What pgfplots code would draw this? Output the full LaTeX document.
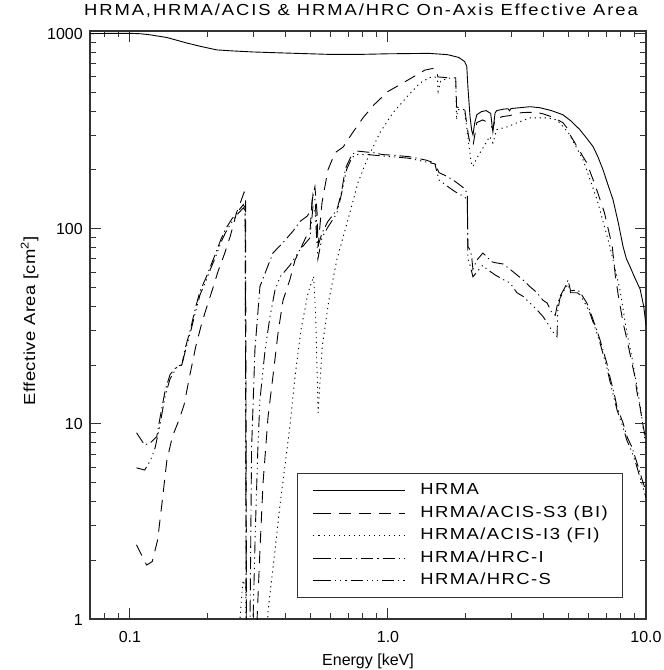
\documentclass[border=0pt]{standalone}
\usepackage{fontspec}
\setmainfont{Liberation Sans}
\newfontfamily\hfont[FakeStretch=1.15,LetterSpace=9]{Liberation Sans}
\newfontfamily\tfont[FakeStretch=1.15,LetterSpace=12]{Liberation Sans}
\newfontfamily\yfont[FakeStretch=1.15,LetterSpace=3]{Liberation Sans}
\usepackage{pgfplots}
\pgfplotsset{compat=1.18}
\begin{document}
\begin{tikzpicture}
\path[use as bounding box] (-90pt,-51pt) rectangle (574pt,619pt);
\begin{axis}[
  at={(0pt,0pt)}, anchor=south west,
  scale only axis, width=556pt, height=588pt,
  xmode=log, ymode=log,
  xmin=0.07, xmax=10, ymin=1, ymax=1031,
  xtick={0.1,1,10}, xticklabels={0.1,1.0,10.0},
  ytick={1,10,100,1000}, yticklabels={1,10,100,1000},
  minor xtick={0.07,0.08,0.09,0.2,0.3,0.4,0.5,0.6,0.7,0.8,0.9,2,3,4,5,6,7,8,9},
  minor ytick={2,3,4,5,6,7,8,9,20,30,40,50,60,70,80,90,200,300,400,500,600,700,800,900},
  tick align=inside, major tick length=11pt, minor tick length=6pt,
  tick style={line width=1pt, black!80},
  axis line style={line width=1.2pt, black!80},
  tick label style={font=\fontsize{16}{19}\selectfont},
  xticklabel style={anchor=base, inner sep=0pt, yshift=-23pt},
  yticklabel style={anchor=base east, inner sep=0pt, xshift=-7pt, yshift=-6pt},
  title={HRMA,HRMA/ACIS \& HRMA/HRC On-Axis Effective Area},
  title style={at={(0.5,1)}, anchor=base, yshift=9pt, xshift=-7pt, inner sep=0pt, font=\tfont\fontsize{16}{19}\selectfont},
  xlabel={Energy [keV]},
  every axis x label/.style={at={(axis description cs:0.5,0)}, anchor=base, yshift=-46pt, inner sep=0pt, font=\fontsize{16}{19}\selectfont},
  ylabel={Effective Area [cm\textsuperscript{2}]},
  every axis y label/.style={at={(axis description cs:-0.0989,0.507)}, rotate=90, anchor=base, inner sep=0pt, font=\yfont\fontsize{16}{19}\selectfont},
  legend style={at={(axis description cs:0.3723,0.2483)}, anchor=north west,
    draw=black!80, line width=1.2pt, inner xsep=15pt, inner ysep=9.25pt,
    font=\hfont\fontsize{16}{19}\selectfont, row sep=7pt,
    nodes={inner sep=0pt, text height=12pt, text depth=3.5pt},
    /tikz/every odd column/.append style={column sep=15pt}},
  legend cell align=left,
  legend image code/.code={\path (0pt,0pt) -- (6pt,0pt); \draw[#1] (6pt,0pt) -- (92pt,0pt);},
  every axis plot/.append style={black, line width=0.9pt, mark=none},
]
% HRMA
\addplot[solid] coordinates {
(0.07,1000) (0.09,1003) (0.1,1003) (0.11,998) (0.12,985) (0.139,955) (0.166,895)
(0.187,861) (0.217,825) (0.25,815) (0.3,805) (0.39,796) (0.5,788) (0.6,782)
(0.8,783) (1.0,788) (1.44,792) (1.7,780) (1.88,755) (1.98,720) (2.02,680)
(2.04,535) (2.08,375) (2.11,320) (2.135,303) (2.17,350) (2.21,384) (2.3,398)
(2.4,403) (2.5,390) (2.55,314) (2.6,392) (2.64,403) (2.8,410) (2.92,412)
(2.96,402) (3.0,413) (3.3,418) (3.55,422) (3.88,417) (4.3,403) (4.76,384)
(5.1,358) (5.54,322) (5.9,290) (6.23,264) (6.5,235) (6.81,201) (7.1,170)
(7.45,141) (7.8,108) (8.15,81) (8.4,70) (8.67,64) (9.0,57) (9.49,49) (9.8,40) (10,32)
};
\addlegendentry{HRMA}
% ACIS-S3
\addplot[dash pattern=on 12pt off 8pt] coordinates {
(0.106,2.40) (0.116,1.89) (0.122,1.97) (0.128,2.54) (0.133,3.9) (0.139,6.5)
(0.146,8.6) (0.155,10.5) (0.162,12.5) (0.171,18) (0.180,25) (0.190,33) (0.200,41)
(0.210,50) (0.219,60) (0.233,75) (0.245,92) (0.259,121) (0.270,140) (0.277,154)
(0.2805,150) (0.2835,0.3) (0.305,0.4) (0.311,1.0) (0.319,2.26) (0.328,5)
(0.343,10.9) (0.358,17.4) (0.375,29.3) (0.392,43) (0.417,55) (0.436,69)
(0.456,78) (0.48,90) (0.499,99) (0.508,140) (0.521,164) (0.531,121) (0.536,81)
(0.555,136) (0.585,200) (0.623,245) (0.67,262) (0.73,311) (0.80,370) (0.88,430)
(1.0,505) (1.2,580) (1.39,650) (1.51,665) (1.55,640) (1.56,600) (1.7,594)
(1.83,594) (1.845,420) (1.9,417) (1.98,417) (2.05,300) (2.08,275) (2.134,264)
(2.21,350) (2.33,361) (2.5,345) (2.55,322) (2.6,365) (2.79,376) (2.97,380)
(3.16,390) (3.34,394) (3.55,395) (3.78,394) (3.99,388) (4.3,375) (4.76,350)
(5.0,322) (5.1,300) (5.7,234) (5.9,217) (6.3,172) (6.5,153) (6.9,121) (7.05,107)
(7.4,81) (7.6,58) (7.8,46) (8.15,33) (8.44,27) (8.82,20.5) (9.06,17.4)
(9.23,14.5) (9.48,12.2) (9.7,10.1) (9.93,8.6) (10,8)
};
\addlegendentry{HRMA/ACIS-S3 (BI)}
% ACIS-I3
\addplot[dash pattern=on 1.2pt off 3.8pt] coordinates {
(0.265,0.8) (0.267,1.0) (0.274,1.58) (0.281,1.45) (0.2835,0.3) (0.33,0.3)
(0.343,1.1) (0.365,2.26) (0.382,3.9) (0.400,6.3) (0.418,10.1) (0.436,17.4)
(0.46,30.3) (0.49,47) (0.515,57) (0.525,35) (0.536,11.4) (0.556,24.8) (0.59,43)
(0.634,69.6) (0.694,107) (0.765,172) (0.829,226) (0.931,311) (1.045,393)
(1.185,474) (1.33,558) (1.45,595) (1.52,600) (1.555,582) (1.565,506) (1.6,570)
(1.7,590) (1.83,594) (1.845,361) (1.86,408) (1.98,408) (2.05,280) (2.1,220)
(2.134,208) (2.21,230) (2.48,297) (2.55,275) (2.64,322) (2.9,333) (3.16,349)
(3.55,370) (4.14,370) (4.52,361) (5.0,311) (5.7,226) (6.46,141) (7.25,81)
(7.93,48.6) (8.44,29) (8.82,22) (9.48,12.5) (10,7.5)
};
\addlegendentry{HRMA/ACIS-I3 (FI)}
% HRC-I
\addplot[dash pattern=on 12pt off 4pt on 1.2pt off 4pt] coordinates {
(0.106,9.0) (0.114,7.8) (0.12,8.0) (0.127,8.6) (0.131,10.9) (0.137,14.9)
(0.143,17.9) (0.152,19.7) (0.159,20.1) (0.163,23.9) (0.171,30) (0.180,40)
(0.187,48) (0.197,56) (0.205,64) (0.215,75) (0.225,88) (0.235,100) (0.248,112)
(0.26,121) (0.275,133) (0.2795,128) (0.283,0.3) (0.29,0.3) (0.292,1) (0.296,7.4)
(0.305,24) (0.319,50.6) (0.358,75) (0.392,85) (0.428,97) (0.456,109) (0.486,116)
(0.505,125) (0.512,150) (0.522,140) (0.535,81) (0.555,95) (0.585,109)
(0.634,125) (0.66,153) (0.68,194) (0.69,209) (0.725,240) (0.76,250) (0.83,247)
(0.89,245) (0.948,240) (1.05,238) (1.206,234) (1.4,225) (1.52,217) (1.576,194)
(1.7,185) (1.818,175) (1.988,160) (2.03,150) (2.04,81) (2.08,78) (2.11,72)
(2.134,62) (2.21,69) (2.33,75) (2.42,72) (2.5,68) (2.6,67) (2.79,66) (2.97,62)
(3.16,58) (3.34,54.6) (3.55,50.5) (3.78,47) (3.99,43) (4.14,41.6) (4.32,37)
(4.45,36) (4.52,40) (4.64,45) (4.85,50) (4.99,54.6) (5.1,48) (5.41,48.6)
(5.54,47.5) (5.9,41.6) (6.06,38) (6.46,30) (6.63,27) (7.05,20.5) (7.25,17.4)
(7.58,13.7) (7.72,12.2) (8.15,10.1) (8.44,8.6) (8.82,7.6) (9.23,6.3) (9.48,5.6) (10,4.5)
};
\addlegendentry{HRMA/HRC-I}
% HRC-S
\addplot[dash pattern=on 12pt off 4pt on 1.2pt off 4pt on 1.2pt off 4pt on 1.2pt off 4pt] coordinates {
(0.106,5.95) (0.114,5.8) (0.12,6.5) (0.125,7.5) (0.13,9.5) (0.137,14) (0.143,17)
(0.152,19.5) (0.159,20) (0.163,23) (0.171,29) (0.180,38) (0.187,46) (0.197,54)
(0.205,62) (0.215,72) (0.225,85) (0.235,96) (0.248,108) (0.26,118) (0.275,128)
(0.2795,124) (0.283,0.3) (0.296,0.3) (0.30,1) (0.306,2.8) (0.313,7.4) (0.319,13.3)
(0.334,24) (0.349,35.5) (0.365,48.5) (0.382,56.7) (0.417,65) (0.456,78) (0.499,90)
(0.512,130) (0.522,122) (0.535,70) (0.555,90) (0.585,102) (0.634,120) (0.66,150)
(0.69,200) (0.725,232) (0.76,240) (0.83,240) (0.95,236) (1.2,230) (1.52,215)
(1.576,178) (1.7,165) (1.818,155) (1.988,145) (2.03,140) (2.04,70) (2.08,65)
(2.134,56.7) (2.21,60) (2.33,65) (2.42,62) (2.6,58) (2.79,55) (2.97,52.8)
(3.16,47) (3.34,45) (3.55,41.6) (3.78,38.4) (3.99,35.5) (4.14,33) (4.32,30)
(4.52,28) (4.55,38) (4.64,44) (4.8,48) (4.99,52) (5.1,47) (5.41,47) (5.54,46)
(5.9,40) (6.06,37) (6.46,29) (6.63,26) (7.05,19.5) (7.25,16.5) (7.58,13)
(7.72,11.8) (8.15,9.6) (8.44,8.2) (8.82,7.2) (9.23,6.0) (9.48,5.3) (10,4.2)
};
\addlegendentry{HRMA/HRC-S}
\end{axis}
\end{tikzpicture}
\end{document}
